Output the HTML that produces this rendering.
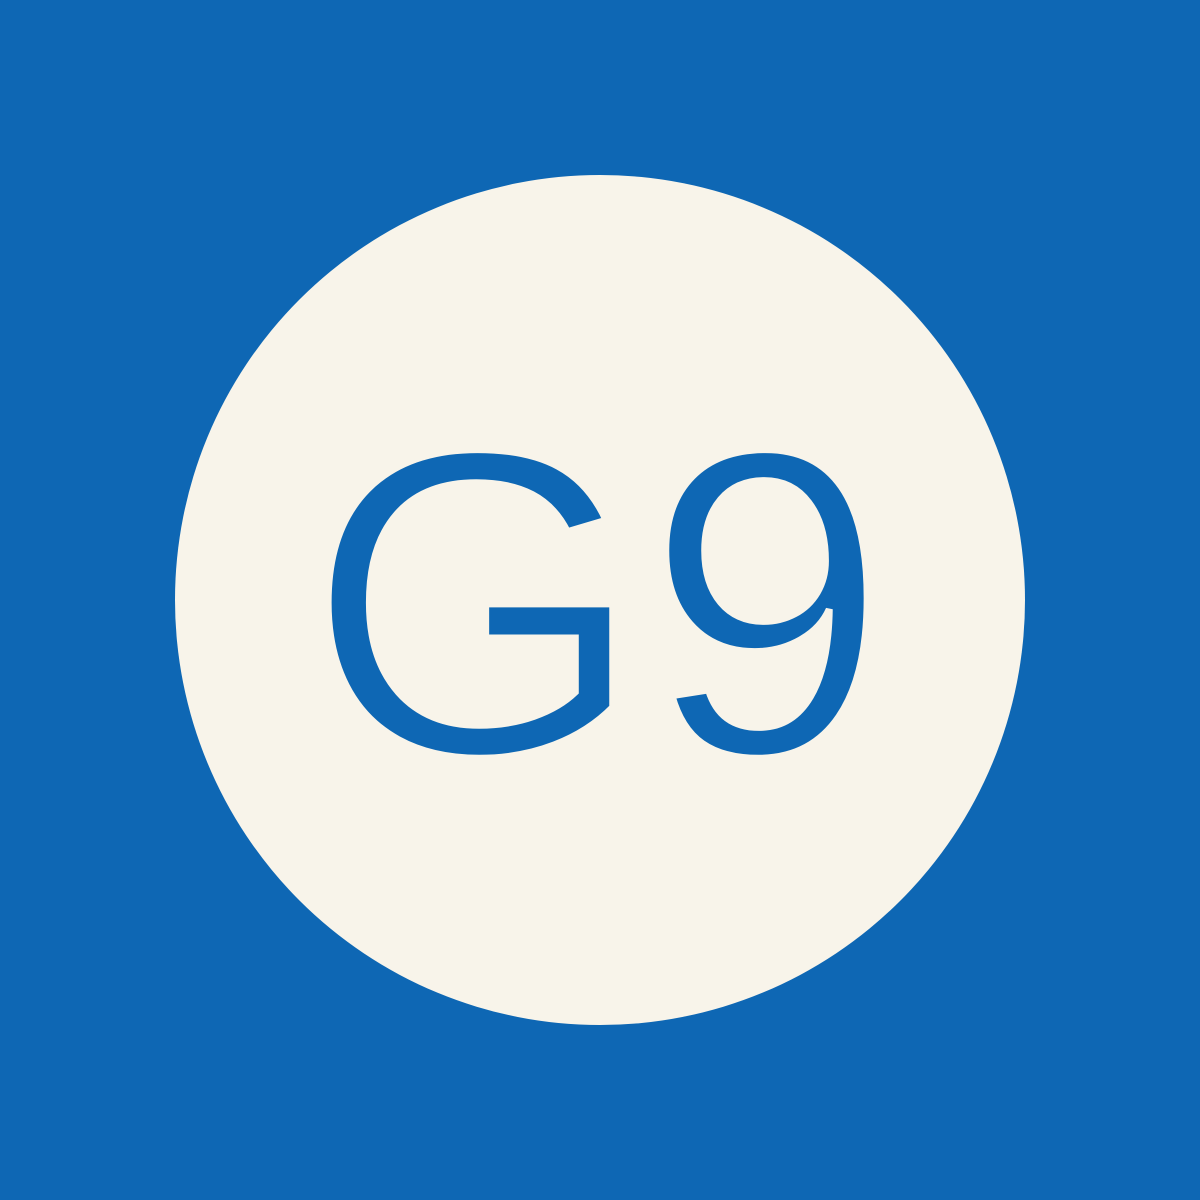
<!DOCTYPE html>
<html>
<head>
<meta charset="utf-8">
<style>
  html, body { margin: 0; padding: 0; width: 1200px; height: 1200px; overflow: hidden; background: #0E67B4; }
  svg { display: block; }
</style>
</head>
<body>
<svg width="1200" height="1200" viewBox="0 0 1200 1200">
  <rect x="0" y="0" width="1200" height="1200" fill="#0E67B4"/>
  <circle cx="600" cy="600" r="425" fill="#F8F4EA"/>
  <text x="597" y="754" text-anchor="middle" font-family="'Liberation Sans', sans-serif" font-size="436" fill="#0E67B4" stroke="#F8F4EA" stroke-width="7" letter-spacing="0">G9</text>
</svg>
</body>
</html>
